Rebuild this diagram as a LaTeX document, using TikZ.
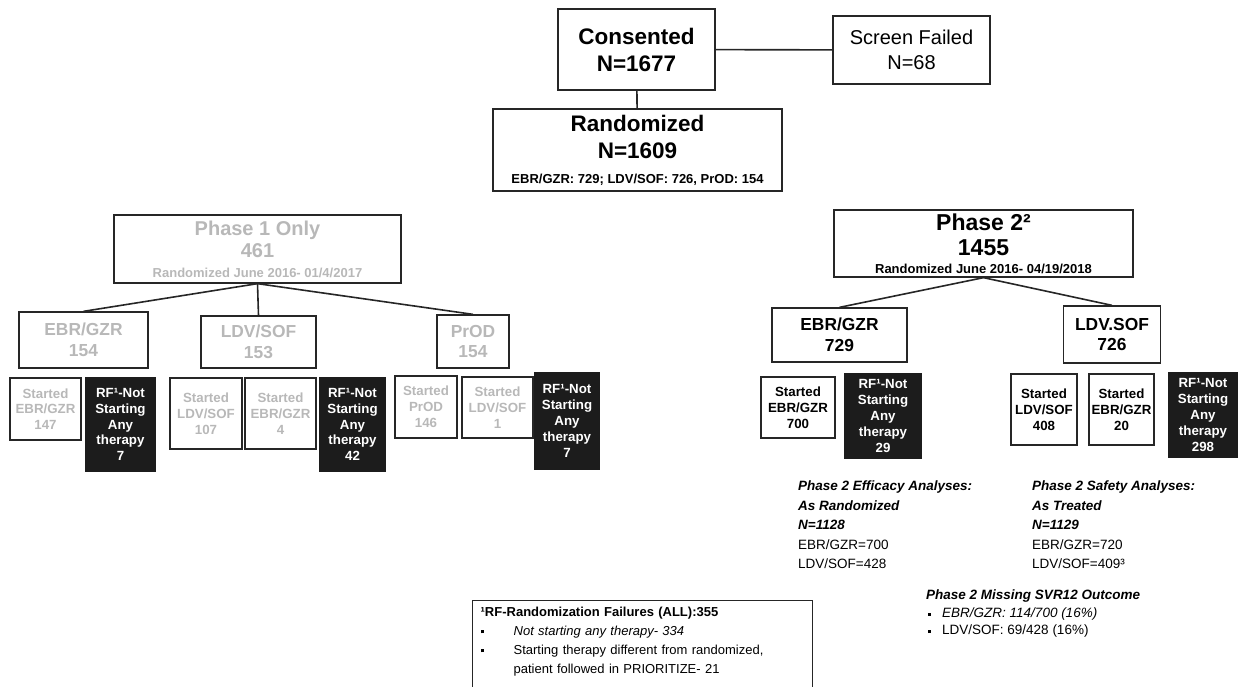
\documentclass[tikz,border=0pt]{standalone}
\usepackage{fontspec}
\setmainfont{Liberation Sans}
\definecolor{phgrey}{HTML}{B8B8B8}
\definecolor{rfblack}{HTML}{1C1C1C}
\definecolor{boxline}{HTML}{262626}
\newcommand{\fsz}[2]{\fontsize{#1}{#2}\selectfont}
\newcommand{\sqbul}{\rule[0.25ex]{3pt}{3pt}}
\newcommand{\rftext}[1]{RF¹-Not\\Starting\\Any\\therapy\\#1}
\begin{document}
\begin{tikzpicture}[x=1pt, y=-1pt,
  box/.style={draw=boxline, line width=1.3pt, inner sep=0pt, align=center, font=\bfseries},
  greybox/.style={box, text=phgrey},
  armbox/.style={box, font=\bfseries\fsz{17.4}{20.5}},
  greyarm/.style={armbox, text=phgrey},
  leaf/.style={box, font=\bfseries\fsz{13.3}{15.8}},
  greyleaf/.style={leaf, text=phgrey},
  rfbox/.style={leaf, fill=rfblack, draw=rfblack, text=white},
  link/.style={draw=boxline, line width=1.6pt},
  note/.style={anchor=north west, inner sep=0pt, align=left, font=\fsz{13.5}{19.5}}]
   \useasboundingbox (0,0) rectangle (1243,686);
   \node[box, minimum width=157, minimum height=81, font=\bfseries\fsz{22.5}{27}] (consent) at (636.5,49.5) {Consented\\N=1677};
   \node[box, minimum width=157, minimum height=68, font=\fsz{20}{25}] (screen) at (911.5,50) {Screen Failed\\N=68};
   \node[box, minimum width=289, minimum height=82, font=\bfseries\fsz{22.5}{27}] (random) at (637.5,150) {Randomized\\N=1609\\[-2pt]{\fsz{13}{16}EBR/GZR: 729; LDV/SOF: 726, PrOD: 154}};
   \draw[link] (consent) -- (screen);
   \draw[link] (consent) -- (random);
   \node[greybox, minimum width=287, minimum height=68, font=\bfseries\fsz{20}{22}] (ph1) at (257.5,249) {Phase 1 Only\\461\\[-2pt]{\fsz{13}{16}Randomized June 2016- 01/4/2017}};
   \node[greyarm, minimum width=129, minimum height=56] (p1ebr) at (83.5,340) {EBR/GZR\\154};
   \node[greyarm, minimum width=115, minimum height=52] (p1ldv) at (258.5,342) {LDV/SOF\\153};
   \node[greyarm, minimum width=72, minimum height=53] (p1prod) at (473,341.5) {PrOD\\154};
   \draw[link] (ph1.south) -- (p1ebr.north);
   \draw[link] (ph1.south) -- (p1ldv.north);
   \draw[link] (ph1.south) -- (p1prod.north);
   \node[greyleaf, minimum width=71, minimum height=62] (p1s1) at (45.5,409) {Started\\EBR/GZR\\147};
   \node[rfbox, minimum width=69, minimum height=93] (p1rf1) at (120.5,424.5) {\rftext{7}};
   \node[greyleaf, minimum width=72, minimum height=71] (p1s2) at (206,413.5) {Started\\LDV/SOF\\107};
   \node[greyleaf, minimum width=71, minimum height=71] (p1s3) at (280.5,413.5) {Started\\EBR/GZR\\4};
   \node[rfbox, minimum width=65, minimum height=93] (p1rf2) at (352.5,424.5) {\rftext{42}};
   \node[greyleaf, minimum width=62, minimum height=62] (p1s4) at (426,407) {Started\\PrOD\\146};
   \node[greyleaf, minimum width=71, minimum height=61] (p1s5) at (497.5,407.5) {Started\\LDV/SOF\\1};
   \node[rfbox, minimum width=64, minimum height=96] (p1rf3) at (567,421) {\rftext{7}};
   \node[box, minimum width=299, minimum height=67, font=\bfseries\fsz{23}{25}] (ph2) at (983.5,243.5) {Phase 2²\\1455\\[-7pt]{\fsz{13}{16}Randomized June 2016- 04/19/2018}};
   \node[armbox, minimum width=135, minimum height=54] (p2ebr) at (839.5,335) {EBR/GZR\\729};
   \node[armbox, minimum width=97, minimum height=57] (p2ldv) at (1112,334.5) {LDV.SOF\\726};
   \draw[link] (ph2.south) -- (p2ebr.north);
   \draw[link] (ph2.south) -- (p2ldv.north);
   \node[leaf, minimum width=74, minimum height=61] (p2s1) at (798,407.5) {Started\\EBR/GZR\\700};
   \node[rfbox, minimum width=76, minimum height=84] (p2rf1) at (883,416) {\rftext{29}};
   \node[leaf, minimum width=66, minimum height=71] (p2s2) at (1044,409.5) {Started\\LDV/SOF\\408};
   \node[leaf, minimum width=65, minimum height=71] (p2s3) at (1121.5,409.5) {Started\\EBR/GZR\\20};
   \node[rfbox, minimum width=68, minimum height=84] (p2rf2) at (1203,415) {\rftext{298}};
   \node[note] (effic) at (798,481) {\textbf{\textit{Phase 2 Efficacy Analyses:}}\\\textbf{\textit{As Randomized}}\\\textbf{\textit{N=1128}}\\EBR/GZR=700\\LDV/SOF=428};
   \node[note] (safety) at (1032,481) {\textbf{\textit{Phase 2 Safety Analyses:}}\\\textbf{\textit{As Treated}}\\\textbf{\textit{N=1129}}\\EBR/GZR=720\\LDV/SOF=409³};
   \node[note, font=\fsz{13.5}{17.5}] (missing) at (926,590) {\textbf{\textit{Phase 2 Missing SVR12 Outcome}}\\\hspace*{2pt}\makebox[14pt][l]{\sqbul}\textit{EBR/GZR: 114/700 (16\%)}\\\hspace*{2pt}\makebox[14pt][l]{\sqbul}LDV/SOF: 69/428 (16\%)};
   \node[draw=boxline, line width=1.3pt, anchor=north west, inner xsep=8pt, inner ysep=6pt, text width=324pt, align=left, font=\fsz{13}{19}] (rfnote) at (472,600) {\textbf{¹RF-Randomization Failures (ALL):355}\\\makebox[33pt][l]{\sqbul}\textit{Not starting any therapy- 334}\\\makebox[33pt][l]{\sqbul}Starting therapy different from randomized,\\\hspace*{33pt}patient followed in PRIORITIZE- 21\rule[-40pt]{0pt}{40pt}};
\end{tikzpicture}
\end{document}
